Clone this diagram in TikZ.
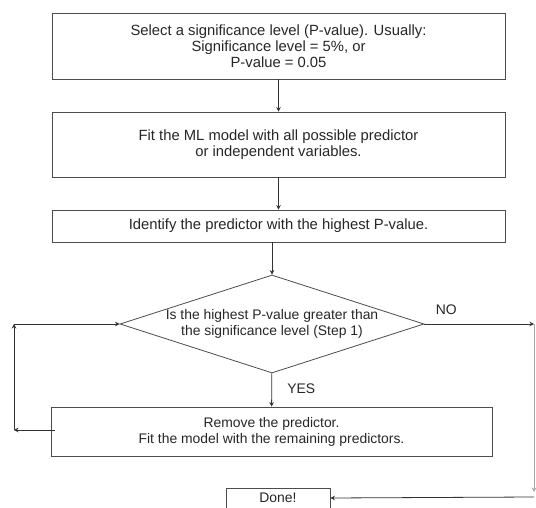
\documentclass[tikz,border=0pt]{standalone}
\usepackage{fontspec}
\setmainfont{Liberation Sans}
\usetikzlibrary{arrows.meta,shapes.geometric,positioning}

\begin{document}
\begin{tikzpicture} [x=1pt,y=1pt,{box/.style={rectangle,draw=black!70,line width=0.8pt,text=black!85,align=center,inner sep=0pt,font=\fontsize{14.8}{16}\selectfont}},{decis/.style={diamond,draw=black!70,line width=0.8pt,text=black!85,align=center,inner sep=0pt,shape aspect=3.1,minimum width=304,minimum height=98,font=\fontsize{13.9}{16}\selectfont}},{arr/.style={draw=black!80,line width=0.8pt,-{Stealth[length=4.5pt,width=4.5pt]}}},{lab/.style={text=black!85,font=\fontsize{13.9}{16}\selectfont}}]
		\useasboundingbox (0,0) rectangle (536,507);
		%%steps
		\node at (278.5,461.0) [box,minimum width=453,minimum height=66] (sel) {Select a significance level (P-value). Usually:\\Significance level = 5\%, or\\P-value = 0.05};
		\node at (278.5,362.5) [box,minimum width=453,minimum height=65] (fit) {Fit the ML model with all possible predictor\\or independent variables.};
		\node at (278.5,281.0) [box,minimum width=453,minimum height=32] (ident) {Identify the predictor with the highest P-value.};
		\node at (272.0,183.0) [decis] (dec) {Is the highest P-value greater than\\the significance level (Step 1)};
		\node at (271.5,75.5) [box,minimum width=441,minimum height=49,font=\fontsize{13.9}{16}\selectfont] (rem) {Remove the predictor.\\Fit the model with the remaining predictors.};
		\node at (278.0,9.0) [box,minimum width=104,minimum height=20,font=\fontsize{13.9}{16}\selectfont] (done) {Done!};

		%%loop corners
		\coordinate (nl1) at (14,77);
		\coordinate (nl2) at (14,183);
		\coordinate (nr1) at (534,183);
		\coordinate (nr2) at (534,15);
		\coordinate (nr3) at (534,10);

		%%arrows
		\draw [arr] (sel) -- (fit);
		\draw [arr] (fit) -- (ident);
		\draw [arr] (dec.north |- ident.south) -- (dec.north);
		\draw [arr] (dec) -- (rem) node[lab,pos=0.45,right=12pt]{YES};
		\draw [arr] (dec.east) -- (nr1) node[lab,pos=0.2,above=6pt]{NO};
		\draw [arr,draw=black!35] (nr1) -- (nr2);
		\draw [arr] (nr3) -- (done.east);
		\draw [arr] ([xshift=4pt,yshift=1.5pt]rem.west) -- (nl1);
		\draw [arr] (nl1) -- (nl2);
		\draw [arr] (nl2) -- (dec.west);
	\end{tikzpicture}
\end{document}
